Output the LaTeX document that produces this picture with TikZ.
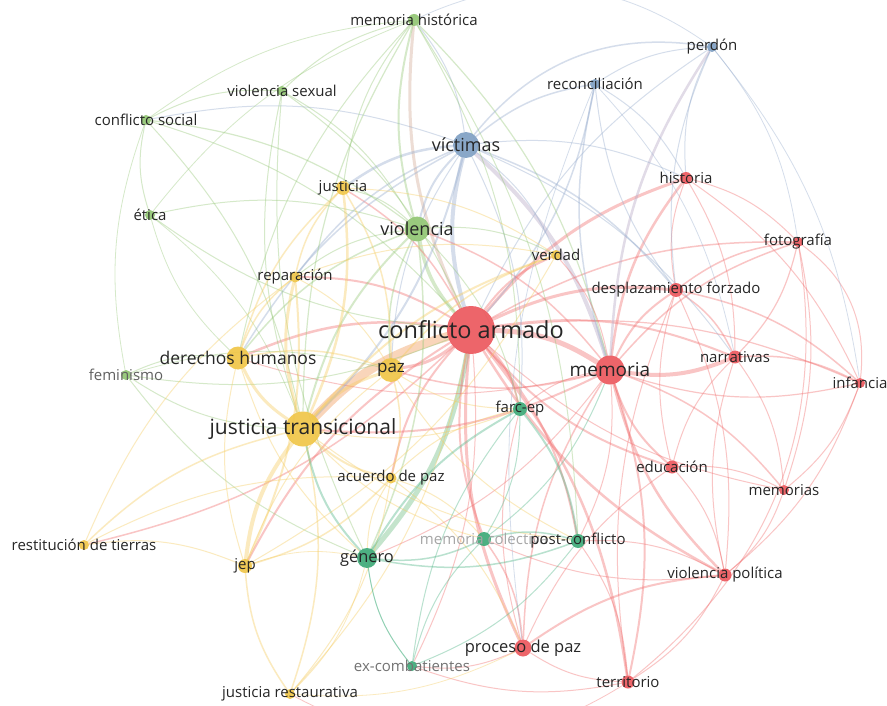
\documentclass[tikz,border=0pt]{standalone}
\usepackage{fontspec}
\setmainfont{Open Sans}
\pgfdeclarelayer{bg}
\pgfdeclarelayer{edges}
\pgfsetlayers{bg,edges,main}
\definecolor{cred}{RGB}{236,88,94}
\definecolor{cyel}{RGB}{240,198,72}
\definecolor{cgrn}{RGB}{146,198,116}
\definecolor{cblu}{RGB}{128,160,196}
\definecolor{ctea}{RGB}{62,170,120}
\definecolor{ered}{RGB}{242,110,110}
\definecolor{eyel}{RGB}{246,204,95}
\definecolor{egrn}{RGB}{150,200,120}
\definecolor{eblu}{RGB}{150,172,205}
\definecolor{etea}{RGB}{80,182,135}
\definecolor{epea}{RGB}{246,186,140}
\definecolor{epur}{RGB}{180,165,195}
\definecolor{ebrn}{RGB}{212,172,150}
\definecolor{txt}{RGB}{38,38,38}
\tikzset{
  kw/.style={circle, inner sep=0pt, minimum size=#1, fill opacity=0.92},
  nr/.style={kw=#1, fill=cred},
  ny/.style={kw=#1, fill=cyel},
  ng/.style={kw=#1, fill=cgrn},
  nb/.style={kw=#1, fill=cblu},
  nt/.style={kw=#1, fill=ctea},
  lab/.style={text=txt, inner sep=0pt, font=\fontsize{#1}{#1}\selectfont},
  lab/.default=15,
  edg/.style={line cap=round, draw opacity=0.4},
  er/.style={edg, draw=ered, line width=#1}, er/.default=0.9,
  ey/.style={edg, draw=eyel, line width=#1}, ey/.default=0.9,
  eg/.style={edg, draw=egrn, line width=#1}, eg/.default=0.9,
  eb/.style={edg, draw=eblu, line width=#1}, eb/.default=0.9,
  et/.style={edg, draw=etea, line width=#1}, et/.default=0.9,
  bl/.style={bend left=15},
  br/.style={bend right=15},
  bll/.style={bend left=30},
  brr/.style={bend right=30},
}
\begin{document}
\begin{tikzpicture}[x=1pt,y=-1pt]
\begin{pgfonlayer}{bg}
\fill[white] (0,0) rectangle (887,706);
\end{pgfonlayer}
\useasboundingbox (0,0) rectangle (887,706);
% ---------- nodes ----------
\node[ng=12] (mh) at (414,20) {};
\node[ng=10] (vs) at (282,91) {};
\node[ng=10] (cs) at (146,120) {};
\node[ng=10] (et) at (150,215) {};
\node[ny=14] (ju) at (343,188) {};
\node[ng=25] (vi) at (417,229) {};
\node[nb=26] (vc) at (466,145) {};
\node[nb=10] (rc) at (595,84) {};
\node[nb=10] (pe) at (712,47) {};
\node[nr=12] (hi) at (686,178) {};
\node[nr=10] (fo) at (798,242) {};
\node[ny=10] (ve) at (556,255) {};
\node[nr=14] (df) at (676,290) {};
\node[nr=48] (ca) at (471,330) {};
\node[nr=29] (me) at (610,370) {};
\node[nr=13] (na) at (735,357) {};
\node[nr=10] (in) at (860,383) {};
\node[nt=14] (fa) at (520,409) {};
\node[nr=13] (ed) at (672,467) {};
\node[nr=10] (ms) at (784,490) {};
\node[ny=11] (re) at (295,277) {};
\node[ny=23] (dh) at (238,358) {};
\node[ng=10] (fe) at (126,375) {};
\node[ny=24] (pz) at (391,370) {};
\node[ny=35] (jt) at (303,429) {};
\node[ny=11] (ap) at (391,478) {};
\node[ny=10] (rt) at (84,545) {};
\node[ny=14] (jp) at (245,566) {};
\node[nt=20] (ge) at (367,558) {};
\node[nt=10] (ex) at (412,666) {};
\node[ny=10] (jr) at (290,694) {};
\node[nt=14] (mc) at (484,539) {};
\node[nt=14] (pc) at (578,541) {};
\node[nr=13] (vp) at (725,575) {};
\node[nr=17] (pp) at (523,648) {};
\node[nr=13] (te) at (628,682) {};
% ---------- edges ----------
\begin{pgfonlayer}{edges}
% conflicto armado
\draw[edg, draw=epea, line width=9, draw opacity=0.6] (jt) to[bl] (ca);
\draw[er=5] (ca) to[bl] (me);
\draw[edg, draw=epur, line width=4] (vc) to[bl] (me);
\draw[edg, draw=eblu, line width=4] (vc) to[br] (ca);
\draw[edg, draw=ebrn, line width=3] (ca) to[bl] (mh);
\draw[eg=3.5] (vi) to[br] (ca);
\draw[edg, draw=etea!60!egrn, line width=5] (ge) to[br] (ca);
\draw[er=3] (ca) to[bl] (pz);
\draw[er=2.5] (dh) to[bl] (ca);
\draw[er=3] (ca) to[bl] (df);
\draw[er=3] (ca) to[bl] (hi);
\draw[er=2] (ca) to[bl] (na);
\draw[er=1.5] (ca) to[bl] (fo);
\draw[er=1.2] (ca) to[bl] (in);
\draw[er=2] (ca) to[br] (ed);
\draw[er=1] (ca) to[br] (ms);
\draw[er=2.5] (ca) to[br] (vp);
\draw[er=3] (ca) to[br] (pp);
\draw[er=2.5] (ca) to[bl] (te);
\draw[er=2] (ca) to[bl] (fa);
\draw[er=2] (ca) to[br] (mc);
\draw[er=2] (ca) to[bl] (pc);
\draw[er=2] (ca) to[br] (ap);
\draw[er=2] (ca) to[bl] (ve);
\draw[er=2] (re) to[bl] (ca);
\draw[er=1.5] (ju) to[bl] (ca);
\draw[eb=1.5] (ca) to[br] (rc);
\draw[eb=1] (ca) to[bl] (pe);
\draw[er=2] (ca) to[br] (jp);
\draw[er=1.5] (rt) to[br] (ca);
\draw[er=1] (ca) to[bl] (ex);
\draw[ey=1] (ca) to[bl] (jr);
\draw[eg=1] (vs) to[bl] (ca);
\draw[eg=1] (cs) to[bl] (ca);
\draw[eg=1] (et) to[br] (ca);
\draw[eg=1] (fe) to[br] (ca);
% memoria
\draw[er=4] (me) to[br] (na);
\draw[er=2.5] (me) to[bl] (hi);
\draw[er=2] (me) to[bl] (df);
\draw[er=1.5] (me) to[bl] (fo);
\draw[er=1.2] (me) to[br] (in);
\draw[er=2] (me) to[br] (ed);
\draw[er=1.5] (me) to[bl] (ms);
\draw[er=2.5] (me) to[br] (vp);
\draw[er=2] (me) to[bl] (te);
\draw[er=1.5] (me) to[br] (pp);
\draw[edg, draw=epur, line width=2.5] (pe) to[br] (me);
\draw[eb=1.5] (rc) to[br] (me);
\draw[er=2] (jt) to[br] (me);
\draw[er=1.5] (pz) to[br] (me);
\draw[er=1.5] (vi) to[bl] (me);
\draw[eg=1.2] (mh) to[bl] (me);
\draw[et=1] (mc) to[br] (me);
\draw[er=1] (me) to[bl] (pc);
\draw[er=1] (fa) to[bl] (me);
\draw[er=1] (dh) to[br] (me);
\draw[er=1] (ve) to[bl] (me);
\draw[er=1] (ge) to[br] (me);
% red cluster
\draw[er=1.5] (na) to[br] (df);
\draw[er=1.2] (na) to[br] (fo);
\draw[er=1.5] (na) to[bl] (in);
\draw[er=1] (na) to[bl] (ms);
\draw[er=1] (na) to[br] (ed);
\draw[er=1] (na) to[br] (vp);
\draw[er=1] (na) to[br] (hi);
\draw[er=1.5] (df) to[bl] (fo);
\draw[er=1.5] (df) to[bl] (in);
\draw[er=1] (df) to[bl] (hi);
\draw[er=1] (df) to[bl] (vp);
\draw[er=1] (df) to[br] (te);
\draw[er=1] (df) to[br] (ed);
\draw[er=1] (hi) to[bl] (fo);
\draw[er=1] (hi) to[bl] (in);
\draw[er=1] (fo) to[bll] (in);
\draw[er=1] (fo) to[bl] (ms);
\draw[er=1] (in) to[bl] (ms);
\draw[er=1] (ed) to[bl] (vp);
\draw[er=1] (ed) to[bl] (ms);
\draw[er=1] (ed) to[br] (pp);
\draw[er=1] (ms) to[bl] (vp);
\draw[er=2] (vp) to[br] (pp);
\draw[er=1] (vp) to[bl] (te);
\draw[er=1] (vp) to[bl] (mc);
\draw[er=1] (vp) to[br] (pc);
\draw[er=1] (pp) to[br] (te);
\draw[er=1] (pp) to[bl] (fa);
\draw[er=1.5] (pp) to[br] (mc);
\draw[er=1] (pp) to[bl] (ex);
\draw[er=1] (te) to[br] (pc);
\draw[er=1] (te) to[bl] (ex);
\draw[er=0.8] (jr) to[brr] (te);
\draw[er=1] (in) to[bl] (vp);
\draw[er=1] (fo) to[bll] (te);
% blue cluster
\draw[eb=1.5] (vc) to[bll] (pe);
\draw[eb=1.5] (vc) to[bl] (rc);
\draw[eb=1] (rc) to[bl] (pe);
\draw[eb=0.8] (pe) to[bl] (in);
\draw[eb=0.8] (pe) to[bl] (fo);
\draw[eb=1] (pe) to[br] (hi);
\draw[eb=1] (pe) to[br] (df);
\draw[eb=1] (rc) to[bl] (hi);
\draw[eb=1] (rc) to[br] (df);
\draw[eb=0.8] (rc) to[br] (pp);
\draw[eb=0.8] (rc) to[bl] (na);
\draw[eb=1] (vc) to[bl] (hi);
\draw[eb=1.5] (vc) to[bl] (df);
\draw[eb=1] (vc) to[bl] (ve);
\draw[eb=2.5] (vc) to[br] (ju);
\draw[eb=2] (vc) to[br] (vi);
\draw[eb=1] (vc) to[br] (mh);
\draw[eb=1.5] (vc) to[br] (re);
\draw[eb=1.5] (vc) to[br] (dh);
\draw[eb=2] (vc) to[bl] (jt);
\draw[eb=1] (vc) to[br] (pz);
\draw[eb=1] (vc) to[bl] (fa);
\draw[eb=1] (vc) to[br] (cs);
\draw[eb=1] (vc) to[bl] (na);
\draw[eb=0.8] (pe) to[brr] (mh);
% green cluster
\draw[eg=2] (mh) to[br] (vi);
\draw[eg=1] (mh) to[br] (vs);
\draw[eg=1] (mh) to[br] (ju);
\draw[eg=1] (mh) to[br] (dh);
\draw[eg=1.2] (mh) to[br] (jt);
\draw[eg=0.8] (mh) to[br] (et);
\draw[eg=0.8] (mh) to[br] (cs);
\draw[eg=1] (mh) to[bl] (fa);
\draw[eg=1] (mh) to[bl] (pc);
\draw[eg=1] (vs) to[bl] (vi);
\draw[eg=1] (vs) to[br] (cs);
\draw[eg=1] (vs) to[br] (ge);
\draw[eg=1] (vs) to[br] (jt);
\draw[eg=1] (cs) to[br] (et);
\draw[eg=0.8] (cs) to[br] (fe);
\draw[eg=1.2] (cs) to[bl] (vi);
\draw[eg=1] (cs) to[bl] (jt);
\draw[eg=1] (et) to[bl] (vi);
\draw[eg=0.8] (et) to[br] (dh);
\draw[eg=0.8] (et) to[bl] (jt);
\draw[eg=1] (fe) to[bl] (dh);
\draw[eg=1] (fe) to[br] (jt);
\draw[eg=1] (fe) to[br] (ge);
\draw[eg=0.8] (fe) to[bl] (pz);
\draw[eg=1] (vi) to[br] (ju);
\draw[eg=1] (vi) to[br] (re);
\draw[eg=1.5] (vi) to[br] (dh);
\draw[eg=2] (vi) to[br] (jt);
\draw[eg=1.5] (vi) to[br] (pz);
\draw[eg=1.5] (vi) to[bl] (ge);
\draw[eg=1] (vi) to[bl] (fa);
\draw[eg=1] (vi) to[bl] (ve);
% yellow cluster
\draw[ey=3] (jt) to[bl] (dh);
\draw[ey=4] (jt) to[br] (jp);
\draw[ey=3] (jt) to[bl] (re);
\draw[ey=3] (jt) to[bl] (pz);
\draw[ey=2] (jt) to[br] (ap);
\draw[ey=2.5] (jt) to[br] (ju);
\draw[ey=2] (jt) to[bl] (ve);
\draw[ey=1.5] (jt) to[br] (rt);
\draw[ey=1.5] (jt) to[bl] (jr);
\draw[et=2] (jt) to[br] (ge);
\draw[ey=1] (jt) to[br] (fa);
\draw[ey=1] (jt) to[br] (mc);
\draw[ey=1] (jt) to[br] (pc);
\draw[ey=1.5] (dh) to[bl] (pz);
\draw[ey=1.5] (dh) to[bl] (re);
\draw[ey=1.5] (dh) to[bl] (ju);
\draw[ey=1] (dh) to[br] (ge);
\draw[ey=1] (dh) to[br] (jp);
\draw[ey=1.5] (pz) to[bl] (ap);
\draw[ey=1.5] (pz) to[bl] (ve);
\draw[ey=1.5] (pz) to[br] (ju);
\draw[ey=1] (pz) to[br] (re);
\draw[ey=1] (pz) to[br] (fa);
\draw[ey=1] (pz) to[br] (pc);
\draw[ey=1] (pz) to[br] (jp);
\draw[ey=1.5] (jp) to[br] (jr);
\draw[ey=1.5] (jp) to[br] (ap);
\draw[ey=1] (jp) to[br] (rt);
\draw[ey=2] (jp) to[br] (re);
\draw[ey=0.8] (jp) to[bl] (ge);
\draw[ey=1] (jp) to[br] (ve);
\draw[ey=1.5] (ju) to[br] (re);
\draw[ey=1] (ju) to[bl] (ve);
\draw[ey=1] (re) to[bl] (ve);
\draw[ey=1] (ap) to[bl] (fa);
\draw[ey=1] (rt) to[bl] (ap);
\draw[ey=1] (ap) to[br] (ge);
\draw[ey=1] (ap) to[bl] (pp);
\draw[ey=1] (ap) to[bl] (mc);
\draw[ey=1] (jr) to[br] (ap);
\draw[ey=0.8] (jr) to[br] (ge);
\draw[ey=0.8] (jr) to[br] (pp);
\draw[ey=1] (rt) to[bl] (re);
% teal cluster
\draw[et=2] (ge) to[bl] (fa);
\draw[et=1.5] (ge) to[br] (mc);
\draw[et=1] (ge) to[br] (ex);
\draw[et=1.5] (ge) to[br] (pc);
\draw[et=1] (fa) to[bl] (mc);
\draw[et=2] (fa) to[bl] (pc);
\draw[et=1] (fa) to[br] (ex);
\draw[et=1.5] (mc) to[bl] (pc);
\draw[et=1] (mc) to[br] (ex);
\draw[et=1] (pc) to[bl] (ex);
\draw[et=0.8] (ex) to[bl] (ge);
\end{pgfonlayer}
% ---------- labels ----------
\node[lab] (mh-t) at (mh) {memoria histórica};
\node[lab] (vs-t) at (vs) {violencia sexual};
\node[lab] (cs-t) at (cs) {conflicto social};
\node[lab] (et-t) at (et) {ética};
\node[lab] (ju-t) at (ju) {justicia};
\node[lab=18] (vi-t) at (vi) {violencia};
\node[lab=18] (vc-t) at (vc) {víctimas};
\node[lab] (rc-t) at (rc) {reconciliación};
\node[lab] (pe-t) at (pe) {perdón};
\node[lab] (hi-t) at (hi) {historia};
\node[lab] (fo-t) at (fo) {fotografía};
\node[lab] (ve-t) at (ve) {verdad};
\node[lab] (df-t) at (df) {desplazamiento forzado};
\node[lab=23.5] (ca-t) at (ca) {conflicto armado};
\node[lab=19] (me-t) at (me) {memoria};
\node[lab] (na-t) at (na) {narrativas};
\node[lab] (in-t) at (in) {infancia};
\node[lab] (fa-t) at (fa) {farc-ep};
\node[lab] (ed-t) at (ed) {educación};
\node[lab] (ms-t) at (ms) {memorias};
\node[lab] (re-t) at (re) {reparación};
\node[lab=17.5] (dh-t) at (dh) {derechos humanos};
\node[lab, text=black!62] (fe-t) at (fe) {feminismo};
\node[lab=17] (pz-t) at (pz) {paz};
\node[lab=21] (jt-t) at (jt) {justicia transicional};
\node[lab] (ap-t) at (ap) {acuerdo de paz};
\node[lab] (rt-t) at (rt) {restitución de tierras};
\node[lab] (jp-t) at (jp) {jep};
\node[lab=16.4] (ge-t) at (ge) {género};
\node[lab, text=black!55] (ex-t) at (ex) {ex-combatientes};
\node[lab] (jr-t) at (jr) {justicia restaurativa};
\node[lab, text=black!35] (mc-t) at (mc) {memoria colectiva};
\node[lab] (pc-t) at (pc) {post-conflicto};
\node[lab] (vp-t) at (vp) {violencia política};
\node[lab=16.5] (pp-t) at (pp) {proceso de paz};
\node[lab] (te-t) at (te) {territorio};
\end{tikzpicture}
\end{document}
